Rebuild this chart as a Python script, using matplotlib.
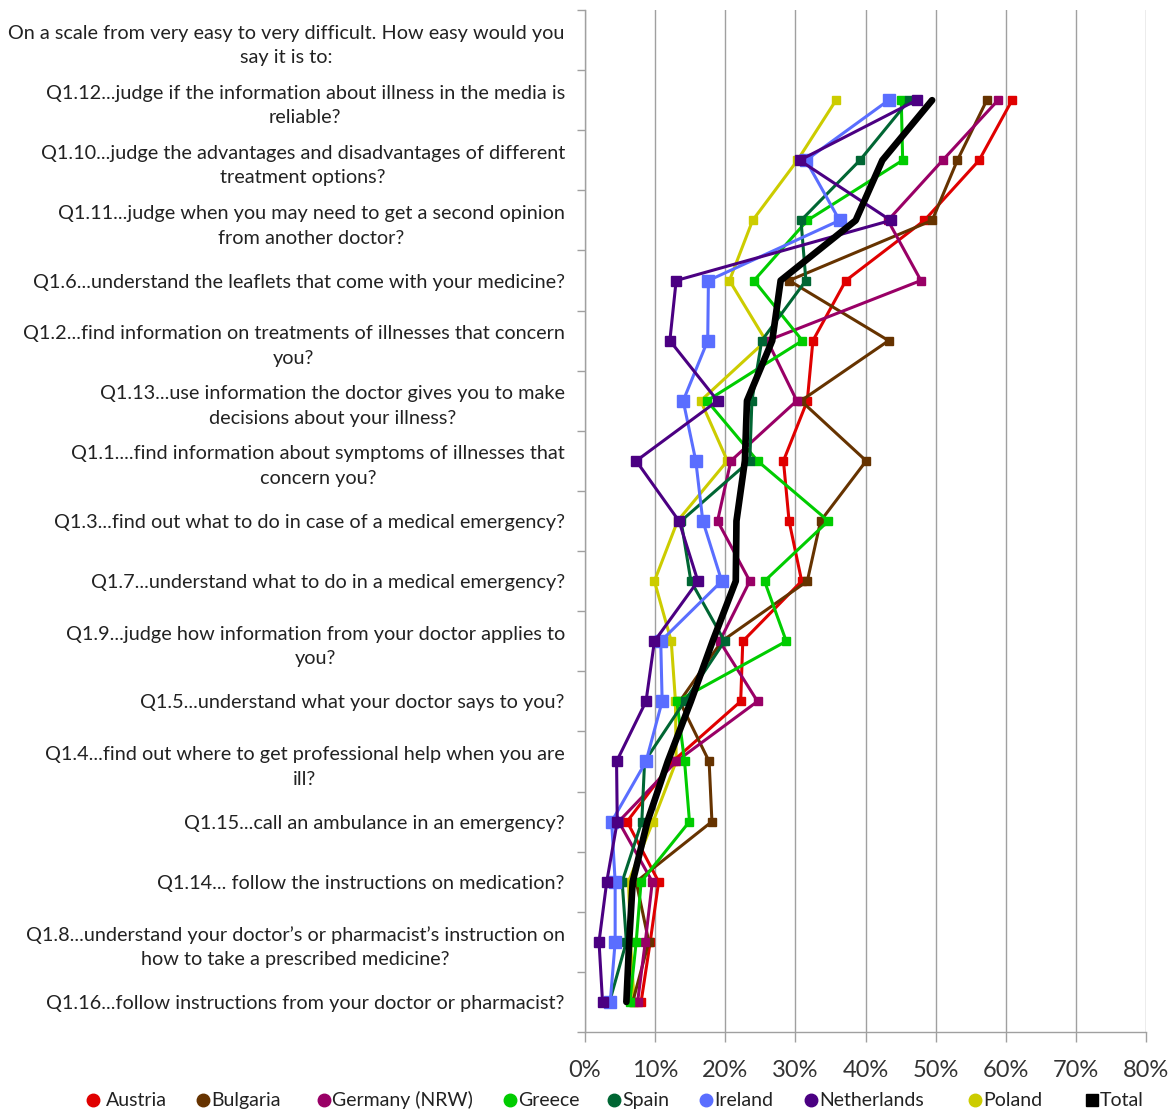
import numpy as np
import matplotlib
matplotlib.use("Agg")
import matplotlib.pyplot as plt
from matplotlib.lines import Line2D
from matplotlib.ticker import FixedLocator, PercentFormatter

plt.rcParams['font.family'] = ['Lato', 'DejaVu Sans']

categories = [
    "On a scale from very easy to very difficult. How easy would you\nsay it is to:",
    "Q1.12...judge if the information about illness in the media is\nreliable?",
    "Q1.10...judge the advantages and disadvantages of different\ntreatment options?",
    "Q1.11...judge when you may need to get a second opinion\nfrom another doctor?",
    "Q1.6...understand the leaflets that come with your medicine?",
    "Q1.2...find information on treatments of illnesses that concern\nyou?",
    "Q1.13...use information the doctor gives you to make\ndecisions about your illness?",
    "Q1.1....find information about symptoms of illnesses that\nconcern you?",
    "Q1.3...find out what to do in case of a medical emergency?",
    "Q1.7...understand what to do in a medical emergency?",
    "Q1.9...judge how information from your doctor applies to\nyou?",
    "Q1.5...understand what your doctor says to you?",
    "Q1.4...find out where to get professional help when you are\nill?",
    "Q1.15...call an ambulance in an emergency?",
    "Q1.14... follow the instructions on medication?",
    "Q1.8...understand your doctor\u2019s or pharmacist\u2019s instruction on\nhow to take a prescribed medicine?",
    "Q1.16...follow instructions from your doctor or pharmacist?",
]

austria     = [60.9, 56.2, 48.4, 37.2, 32.5, 31.7, 28.3, 29.1, 30.9, 22.5, 22.2, 12.5, 6.0, 10.5, 9.3, 8.0]
bulgaria    = [57.3, 53.1, 49.5, 29.1, 43.3, 30.8, 40.1, 33.6, 31.7, 19.5, 13.5, 17.7, 18.1, 7.3, 9.1, 6.8]
germany     = [58.9, 51.0, 43.2, 47.9, 26.0, 30.2, 20.8, 18.9, 23.5, 19.2, 24.6, 13.0, 4.8, 9.6, 8.6, 7.5]
greece      = [45.1, 45.3, 31.7, 24.1, 31.0, 17.4, 24.6, 34.7, 25.6, 28.7, 13.1, 14.2, 14.9, 8.0, 7.3, 6.4]
spain       = [46.2, 39.2, 30.8, 31.5, 25.2, 23.8, 23.5, 13.7, 15.1, 19.9, 14.2, 8.5, 8.1, 5.3, 5.9, 3.5]
ireland     = [43.3, 31.5, 36.3, 17.6, 17.5, 14.0, 15.8, 16.8, 19.5, 10.8, 11.0, 8.7, 3.8, 4.3, 4.3, 3.6]
netherlands = [47.3, 30.6, 43.6, 13.0, 12.1, 18.9, 7.3, 13.4, 16.1, 9.9, 8.7, 4.5, 4.6, 3.1, 2.0, 2.5]
poland      = [35.8, 30.3, 23.9, 20.6, 25.8, 16.5, 20.3, 13.2, 9.9, 12.3, 12.9, 13.0, 9.7, 6.2, 6.5, 7.0]
total       = [49.5, 42.4, 38.6, 27.9, 26.7, 23.1, 22.8, 21.6, 21.5, 18.2, 15.1, 11.8, 8.9, 6.8, 6.3, 5.9]

series_names = ["Austria", "Bulgaria", "Germany (NRW)", "Greece", "Spain",
                "Ireland", "Netherlands", "Poland", "Total"]
series_values = [austria, bulgaria, germany, greece, spain, ireland, netherlands, poland, total]
x_ticks = [0, 10, 20, 30, 40, 50, 60, 70, 80]

colors = ["#E00000", "#663300", "#990066", "#00CC00", "#006633",
          "#5A6EFF", "#4B0082", "#CCCC00", "#000000"]
msizes = [6, 6, 6, 6, 6, 8, 7, 6, 0]
zorders = [3, 3, 3, 3, 3, 3, 3, 2.5, 5]

W, H = 1176, 1110
fig = plt.figure(figsize=(W / 100, H / 100), dpi=100)
x0, x1, y0, y1 = 585, 1146, 10, 1032
ax = fig.add_axes([x0 / W, (H - y1) / H, (x1 - x0) / W, (y1 - y0) / H])

ypos = np.arange(1, len(categories))
for name, vals, c, ms, zo in zip(series_names, series_values, colors, msizes, zorders):
    if name == "Total":
        ax.plot(vals, ypos, color=c, lw=4.8, zorder=zo, solid_capstyle='round',
                solid_joinstyle='round')
    else:
        ax.plot(vals, ypos, color=c, lw=2.2, marker='s', ms=ms, mec=c, mfc=c, zorder=zo)

ax.set_xlim(0, 80)
ax.set_ylim(len(categories) - 0.5, -0.5)
ax.set_yticks(np.arange(len(categories)))
ax.set_yticklabels(categories, fontsize=14.3, multialignment='center', linespacing=1.55)
ax.yaxis.set_minor_locator(FixedLocator(np.arange(-0.5, len(categories), 1.0)))
ax.tick_params(axis='y', which='major', length=0, pad=14.5, labelcolor='#222222')
ax.tick_params(axis='y', which='minor', length=6, color='#A0A0A0', width=1)

ax.set_xticks(x_ticks)
ax.xaxis.set_major_formatter(PercentFormatter(decimals=0))
ax.tick_params(axis='x', which='major', length=7, color='#A0A0A0', width=1,
               labelsize=17, pad=13, labelcolor='#333333')
ax.grid(axis='x', color='#A0A0A0', lw=1)
ax.set_axisbelow(True)
for s in ['top', 'right']:
    ax.spines[s].set_visible(False)
for s in ['left', 'bottom']:
    ax.spines[s].set_color('#A0A0A0')
    ax.spines[s].set_linewidth(1)

# legend
leg_x = [93, 203, 324, 510, 614, 706, 811, 975, 1092]
leg_y = 1100
for name, c, lx in zip(series_names, colors, leg_x):
    yf = (H - leg_y) / H
    if name == "Total":
        fig.add_artist(Line2D([lx / W], [yf], marker='s', ms=9, color=c, lw=0,
                              transform=fig.transFigure))
    else:
        fig.add_artist(Line2D([lx / W], [yf], marker='o', ms=9, color=c, lw=0,
                              transform=fig.transFigure))
    gap = 13 if name == "Austria" else 8
    fig.text((lx + gap) / W, (H - 1106) / H, name, fontsize=14, va='baseline', ha='left',
             color='#222222')

fig.savefig("out.png", dpi=100)
